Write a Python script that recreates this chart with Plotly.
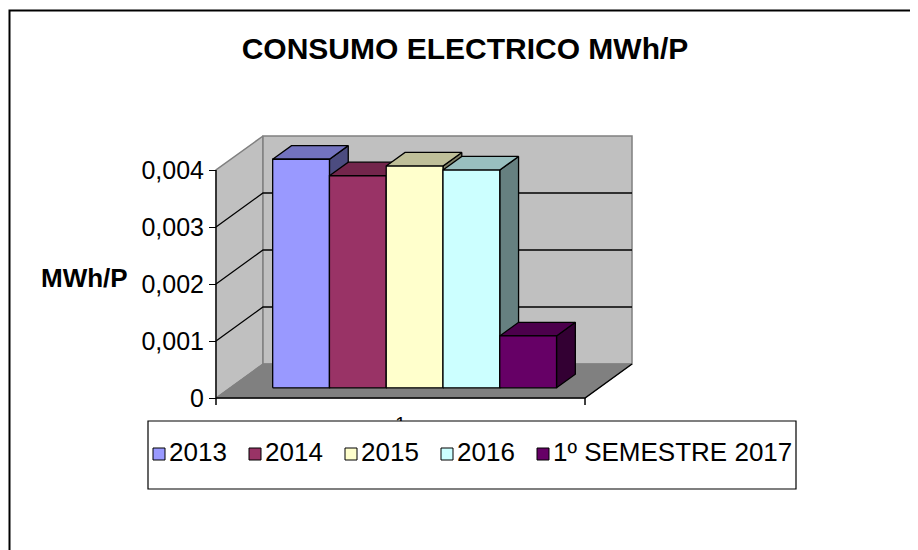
import plotly.graph_objects as go

# ---------------- data ----------------
category_labels = ["1"]
series_names = ["2013", "2014", "2015", "2016", "1º SEMESTRE 2017"]
series_values = [0.00401, 0.00372, 0.00389, 0.00382, 0.00091]
series_colors = ["#9999FF", "#993366", "#FFFFCC", "#CCFFFF", "#660066"]
y_tick_vals = [0, 0.001, 0.002, 0.003, 0.004]
y_tick_text = ["0", "0,001", "0,002", "0,003", "0,004"]
title_text = "CONSUMO ELECTRICO MWh/P"
y_title_text = "MWh/P"

# ---------------- layout geometry (reference pixel space) ----------------
OFF = 8                 # page body margin of the browser
W, H = 918 - OFF, 550 - OFF
PX_X0 = 216.0           # x of the front-left floor corner
PX_Y0 = 398.0           # y of value 0 on the front plane
PX_PER_U = 56.77        # pixels per bar width
PX_PER_V = 57000.0      # pixels per value unit
DEPTH_PX = (47.0, 34.0)
GAP = 1.5               # gap width 150 %
F0, F1 = 0.3, 0.7       # bar depth span inside the floor depth
V_MAX = y_tick_vals[-1]
N = len(series_values)
CW = N + GAP            # category width in bar units

DU = DEPTH_PX[0] / PX_PER_U
DV = DEPTH_PX[1] / PX_PER_V


def PX(x):
    return (x - OFF) / W


def PY(y):
    return 1 - (y - OFF) / H


def proj(u, v, f):
    return u + f * DU, v + f * DV


def shade(hexcol, k):
    h = hexcol.lstrip("#")
    r, g, b = (int(h[i:i + 2], 16) for i in (0, 2, 4))
    return "#%02X%02X%02X" % (round(r * k), round(g * k), round(b * k))


fig = go.Figure()


def add_poly(pts, fill, line_color, lw=1.0, closed=True):
    xs, ys = [], []
    for p in pts:
        x, y = proj(*p)
        xs.append(x)
        ys.append(y)
    if closed:
        xs.append(xs[0])
        ys.append(ys[0])
    fig.add_trace(go.Scatter(
        x=xs, y=ys, mode="lines",
        fill="toself" if fill else None,
        fillcolor=fill,
        line=dict(color=line_color, width=lw),
        hoverinfo="skip", showlegend=False,
    ))


def add_line(pts, color, lw=1.0):
    add_poly(pts, None, color, lw, closed=False)


# walls and floor
add_poly([(0, 0, 0), (0, V_MAX, 0), (0, V_MAX, 1), (0, 0, 1)], "#C0C0C0", "#808080", 1.5)
add_poly([(0, 0, 1), (CW, 0, 1), (CW, V_MAX, 1), (0, V_MAX, 1)], "#C0C0C0", "#808080", 1.5)
add_poly([(0, 0, 0), (CW, 0, 0), (CW, 0, 1), (0, 0, 1)], "#808080", "#808080", 1.0)

# gridlines
for v in y_tick_vals[1:-1]:
    add_line([(0, v, 0), (0, v, 1), (CW, v, 1)], "#000000", 1.3)

# axis lines
add_line([(0, 0, 0), (0, V_MAX, 0)], "#000000", 1.3)
add_line([(0, 0, 0), (CW, 0, 0), (CW, 0, 1)], "#000000", 1.5)
TICK_V = 7.0 / PX_PER_V
for u in (0, CW):
    add_line([(u, 0, 0), (u, -TICK_V, 0)], "#000000", 1.5)

# bars (painter's order, left to right)
for i, (val, col) in enumerate(zip(series_values, series_colors)):
    xl = GAP / 2 + i
    xr = xl + 1
    add_poly([(xr, 0, F0), (xr, 0, F1), (xr, val, F1), (xr, val, F0)], shade(col, 0.5), "#000000", 1.3)
    add_poly([(xl, val, F0), (xr, val, F0), (xr, val, F1), (xl, val, F1)], shade(col, 0.75), "#000000", 1.3)
    add_poly([(xl, 0, F0), (xr, 0, F0), (xr, val, F0), (xl, val, F0)], col, "#000000", 1.3)

FONT = "Arial, Liberation Sans, sans-serif"

# legend box with swatches and labels
LEG_MARKER_X = [153, 249, 345, 441, 537]
LEG_Y = 452
SW = 12
shapes = [dict(type="rect", xref="paper", yref="paper", layer="above",
               x0=PX(148), x1=PX(796), y0=PY(489), y1=PY(421),
               line=dict(color="#000000", width=1.2), fillcolor="#FFFFFF")]
annotations = []
for name, col, mx in zip(series_names, series_colors, LEG_MARKER_X):
    shapes.append(dict(type="rect", xref="paper", yref="paper", layer="above",
                       x0=PX(mx), x1=PX(mx + SW), y0=PY(LEG_Y + 8), y1=PY(LEG_Y + 8 - SW),
                       line=dict(color="#000000", width=1), fillcolor=col))
    annotations.append(dict(text=name, xref="paper", yref="paper",
                            x=PX(mx + SW + 2), y=PY(LEG_Y), xanchor="left", yanchor="middle",
                            showarrow=False, font=dict(size=26, family=FONT)))

annotations.append(dict(
    text="<b>%s</b>" % y_title_text, xref="paper", yref="paper",
    x=PX(84), y=PY(278), xanchor="center", yanchor="middle",
    showarrow=False, font=dict(size=26, family=FONT)))

# outer chart border (extends past the visible window)
shapes.append(dict(type="rect", xref="paper", yref="paper", layer="above",
                   x0=PX(9.5), x1=1.05, y0=-0.05, y1=PY(10.5),
                   line=dict(color="#000000", width=2), fillcolor="rgba(0,0,0,0)"))

fig.update_layout(
    width=W, height=H,
    margin=dict(l=0, r=0, t=0, b=0),
    paper_bgcolor="#FFFFFF", plot_bgcolor="rgba(0,0,0,0)",
    font=dict(family=FONT, color="#000000", size=24),
    showlegend=False,
    title=dict(text="<b>%s</b>" % title_text, x=PX(465), xanchor="center",
               y=PY(48), yanchor="middle", font=dict(size=30, family=FONT)),
    xaxis=dict(
        range=[-(PX_X0 - OFF) / PX_PER_U, (W - (PX_X0 - OFF)) / PX_PER_U],
        anchor="free", position=PY(PX_Y0),
        tickvals=[CW / 2], ticktext=category_labels,
        ticks="", ticklabelstandoff=12,
        showgrid=False, zeroline=False, showline=False,
        tickfont=dict(size=19, family=FONT),
        fixedrange=True,
    ),
    yaxis=dict(
        range=[-(H - (PX_Y0 - OFF)) / PX_PER_V, (PX_Y0 - OFF) / PX_PER_V],
        anchor="free", position=PX(PX_X0),
        tickvals=y_tick_vals, ticktext=y_tick_text,
        ticks="outside", ticklen=7, tickwidth=1.3, tickcolor="#000000",
        showgrid=False, zeroline=False, showline=False,
        tickfont=dict(size=25, family=FONT),
        fixedrange=True,
    ),
    shapes=shapes,
    annotations=annotations,
)

fig.write_html("out.html")
